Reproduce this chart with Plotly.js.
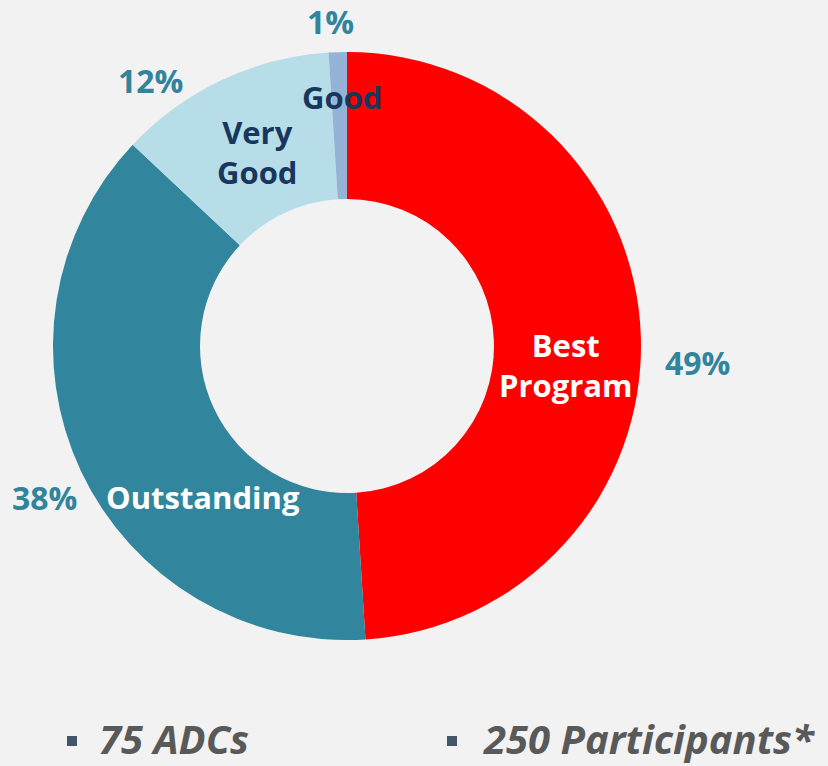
<!DOCTYPE html>
<html>
<head>
<meta charset="utf-8">
<script src="https://cdn.plot.ly/plotly-3.0.1.min.js"></script>
<style>
html,body{margin:0;padding:0;background:#F2F2F2;}
#chart{width:828px;height:766px;}
</style>
</head>
<body>
<div id="chart"></div>
<script>
// Data
const categories = ["Best Program", "Outstanding", "Very Good", "Good"];
const categoryLabels = ["Best<br>Program", "Outstanding", "Very<br>Good", "Good"];
const values = [49, 38, 12, 1];
const percentLabels = ["49%", "38%", "12%", "1%"];
const sliceColors = ["#FF0000", "#31859C", "#B7DEE8", "#95B3D7"];
const footerItems = ["75 ADCs", "250 Participants*"];

// Layout geometry (pixel -> paper conversion)
const W = 828, H = 766;
const M = {l: 53, r: 187, t: 52, b: 126};
const pw = W - M.l - M.r, ph = H - M.t - M.b;
const px = x => (x - M.l) / pw;
const py = y => (H - M.b - y) / ph;

// label placement (pixel centres)
const nameLabelPos = [[566, 365], [203, 497], [257, 152], [342, 97]];
const nameLabelColors = ["#FFFFFF", "#FFFFFF", "#17375E", "#17375E"];
const pctLabelPos = [[697, 362], [44, 497], [150, 80], [330, 21]];

const annotations = [];
categories.forEach((c, i) => {
  annotations.push({
    xref: "paper", yref: "paper",
    x: px(nameLabelPos[i][0]), y: py(nameLabelPos[i][1]),
    xanchor: "center", yanchor: "middle",
    text: categoryLabels[i], showarrow: false,
    font: {family: "Open Sans, sans-serif", size: 31, color: nameLabelColors[i], weight: 700}
  });
  annotations.push({
    xref: "paper", yref: "paper",
    x: px(pctLabelPos[i][0]), y: py(pctLabelPos[i][1]),
    xanchor: "center", yanchor: "middle",
    text: percentLabels[i], showarrow: false,
    font: {family: "Open Sans, sans-serif", size: 32, color: "#31849B", weight: 700}
  });
});

const footerPos = [[98, 738], [482, 738]];
const squarePos = [[72, 741], [452, 741]];
const shapes = [];
footerItems.forEach((t, i) => {
  annotations.push({
    xref: "paper", yref: "paper",
    x: px(footerPos[i][0]), y: py(footerPos[i][1]),
    xanchor: "left", yanchor: "middle",
    text: "<b><i>" + t + "</i></b>", showarrow: false,
    borderpad: 0,
    font: {family: "Open Sans, sans-serif", size: 40, color: "#595959"}
  });
  shapes.push({
    type: "rect", xref: "paper", yref: "paper",
    x0: px(squarePos[i][0] - 5), x1: px(squarePos[i][0] + 5),
    y0: py(squarePos[i][1] - 5), y1: py(squarePos[i][1] + 5),
    fillcolor: "#44546A", line: {width: 0}
  });
});

const trace = {
  type: "pie",
  labels: categories,
  values: values,
  hole: 0.5,
  sort: false,
  direction: "clockwise",
  rotation: 0,
  textinfo: "none",
  marker: {colors: sliceColors, line: {width: 0}},
  domain: {x: [0, 1], y: [0, 1]}
};

const layout = {
  width: W, height: H,
  margin: M,
  paper_bgcolor: "#F2F2F2",
  plot_bgcolor: "#F2F2F2",
  showlegend: false,
  annotations: annotations,
  shapes: shapes
};

Plotly.newPlot("chart", [trace], layout, {displayModeBar: false, staticPlot: true});
</script>
</body>
</html>
